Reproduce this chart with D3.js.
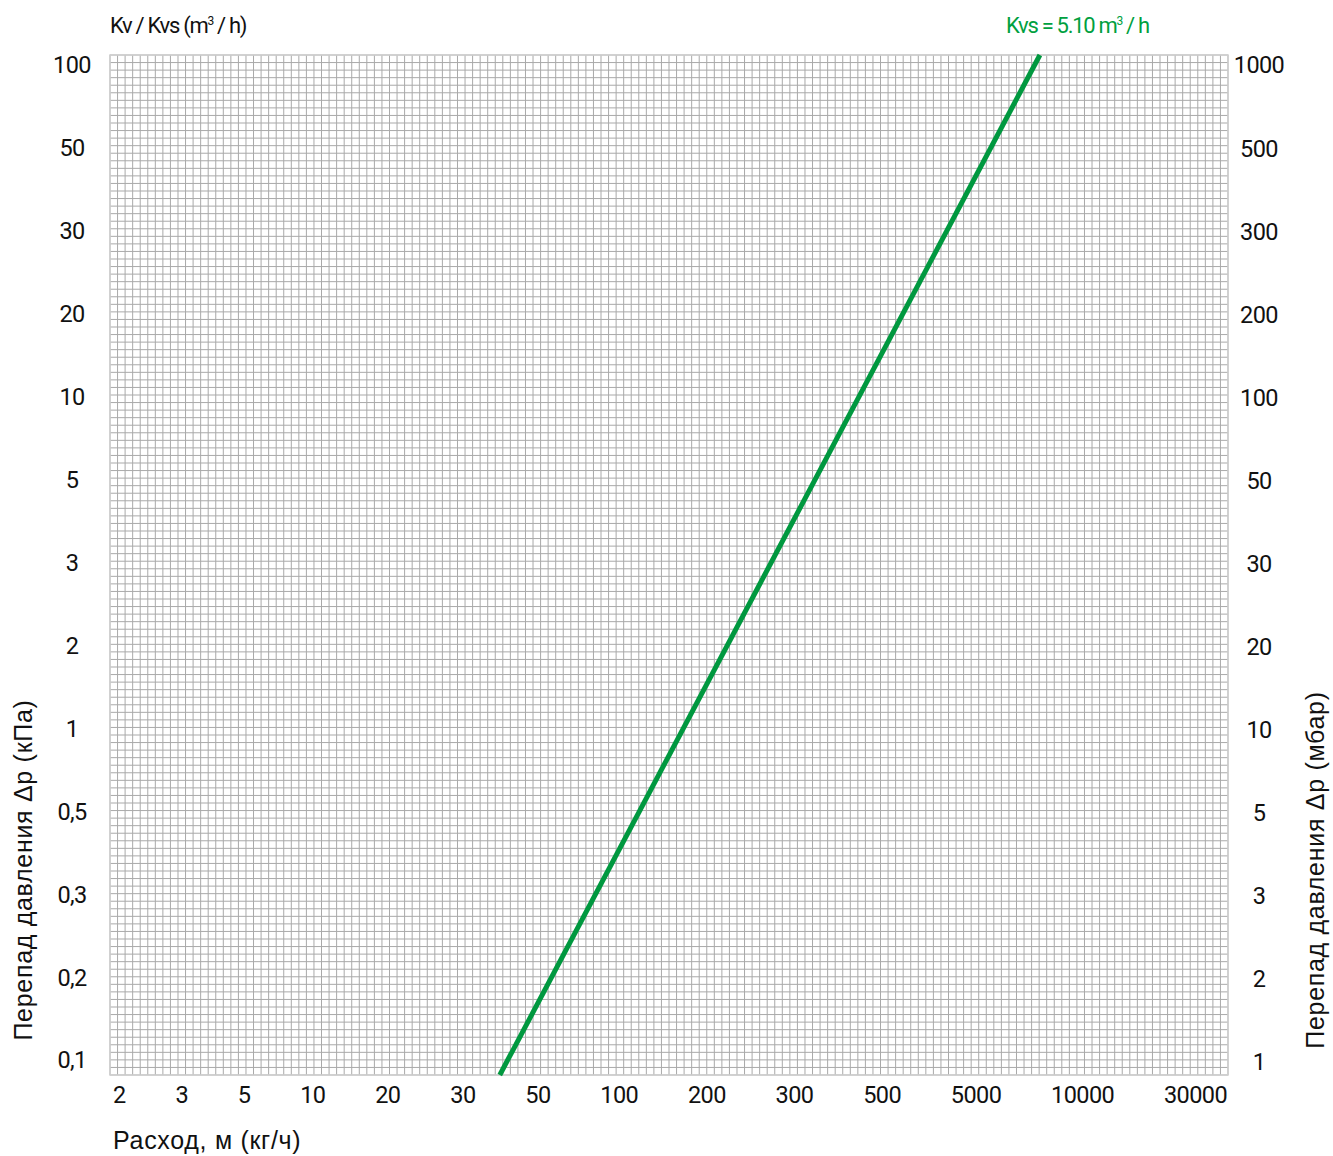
<!DOCTYPE html>
<html><head><meta charset="utf-8">
<script src="https://cdn.jsdelivr.net/npm/d3@7"></script>
<style>
html,body{margin:0;padding:0;background:#fff;}
svg{display:block;}
</style></head>
<body>
<svg id="chart" width="1333" height="1156"></svg>
<script>
// ---- data ----
const leftTicks  = ["100","50","30","20","10","5","3","2","1","0,5","0,3","0,2","0,1"];
const rightTicks = ["1000","500","300","200","100","50","30","20","10","5","3","2","1"];
const bottomTicks = ["2","3","5","10","20","30","50","100","200","300","500","5000","10000","30000"];
const gridCols = 148, gridRows = 135;
// Kvs line: grid column position vs. Δp (kPa)
const kvsLineCol = [51.6, 123.1];
const kvsLineDp  = [0.1, 100];
const kvsLabel = "Kvs = 5.10 m";

// ---- layout ----
const svg = d3.select("#chart");
const L = 110, R = 1228, T = 55, B = 1075;
const x = d3.scaleLinear().domain([0, gridCols]).range([L, R]);
const yRow = d3.scaleLinear().domain([0, gridRows]).range([T, B]);
const y = d3.scaleLog().domain([100, 0.1]).range([T, B]);

const grid = svg.append("g");
grid.selectAll("line.v").data(d3.range(0, gridCols + 1)).join("line")
  .attr("x1", d => x(d)).attr("x2", d => x(d)).attr("y1", T).attr("y2", B)
  .attr("stroke", "#a9a9a9").attr("stroke-width", 1);
grid.selectAll("line.h").data(d3.range(0, gridRows + 1)).join("line")
  .attr("y1", d => yRow(d)).attr("y2", d => yRow(d)).attr("x1", L).attr("x2", R)
  .attr("stroke", "#a9a9a9").attr("stroke-width", 1);
svg.append("rect").attr("x", L).attr("y", T).attr("width", R - L).attr("height", B - T)
  .attr("fill", "none").attr("stroke", "#cfcfcf").attr("stroke-width", 1.5);

// line
const pts = kvsLineCol.map((c, i) => [x(c), y(kvsLineDp[i])]);
svg.append("path").attr("d", d3.line()(pts))
  .attr("stroke", "#00983f").attr("stroke-width", 5).attr("fill", "none");

const tickFont = "Roboto, 'DejaVu Sans', sans-serif";
const tickSize = 23.5, tickLS = -0.6;
// left ticks
const yTick = d3.scalePoint().domain(d3.range(leftTicks.length)).range([65, 1060]);
svg.append("g").selectAll("text").data(leftTicks).join("text")
  .attr("x", 72).attr("y", (d, i) => yTick(i)).attr("dy", "0.36em")
  .attr("text-anchor", "middle").attr("font-family", tickFont).attr("font-size", tickSize)
  .attr("letter-spacing", tickLS).attr("fill", "#111").text(d => d);
const yTickR = d3.scalePoint().domain(d3.range(rightTicks.length)).range([65, 1062]);
svg.append("g").selectAll("text").data(rightTicks).join("text")
  .attr("x", 1259).attr("y", (d, i) => yTickR(i)).attr("dy", "0.36em")
  .attr("text-anchor", "middle").attr("font-family", tickFont).attr("font-size", tickSize)
  .attr("letter-spacing", tickLS).attr("fill", "#111").text(d => d);

// bottom ticks with space-between
const bt = svg.append("g").selectAll("text").data(bottomTicks).join("text")
  .attr("y", 1095).attr("dy", "0.36em")
  .attr("font-family", tickFont).attr("font-size", tickSize)
  .attr("letter-spacing", tickLS).attr("fill", "#111").text(d => d);
const widths = bt.nodes().map(n => n.getComputedTextLength());
const startX = 113, endX = 1227;
const gap = (endX - startX - d3.sum(widths)) / (bottomTicks.length - 1);
let cx = startX;
bt.each(function (d, i) { d3.select(this).attr("x", cx); cx += widths[i] + gap; });

// titles
const titleFont = "'Liberation Sans', Arial, sans-serif";
svg.append("text").attr("x", 113).attr("y", 1149).attr("font-family", titleFont)
  .attr("font-size", 25).attr("letter-spacing", 0.7).attr("fill", "#111").text("Расход, м (кг/ч)");
svg.append("text").attr("transform", "translate(32,870) rotate(-90)")
  .attr("text-anchor", "middle").attr("font-family", titleFont).attr("letter-spacing", 0.7)
  .attr("font-size", 25).attr("fill", "#111").text("Перепад давления Δр (кПа)");
svg.append("text").attr("transform", "translate(1324,870) rotate(-90)")
  .attr("text-anchor", "middle").attr("font-family", titleFont).attr("letter-spacing", 0.7)
  .attr("font-size", 25).attr("fill", "#111").text("Перепад давления Δр (мбар)");

// top titles
const t1 = svg.append("text").attr("x", 110).attr("y", 33).attr("font-family", tickFont)
  .attr("font-size", 22).attr("letter-spacing", -1.3).attr("fill", "#111");
t1.append("tspan").text("Kv / Kvs (m");
t1.append("tspan").attr("font-size", 12).attr("dy", -8).text("3");
t1.append("tspan").attr("dy", 8).text(" / h)");

const t2 = svg.append("text").attr("x", 1006).attr("y", 33).attr("font-family", tickFont)
  .attr("font-size", 22).attr("letter-spacing", -1.3).attr("fill", "#00a040");
t2.append("tspan").text(kvsLabel);
t2.append("tspan").attr("font-size", 12).attr("dy", -8).text("3");
t2.append("tspan").attr("dy", 8).text(" / h");
</script>
</body></html>
